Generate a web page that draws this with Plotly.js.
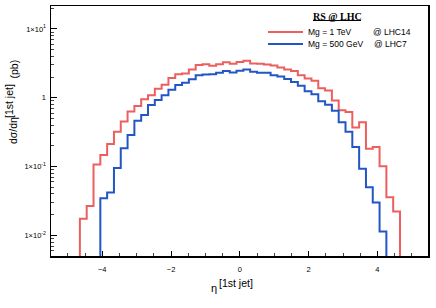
<!DOCTYPE html>
<html>
<head>
<meta charset="utf-8">
<script src="https://cdn.plot.ly/plotly-3.0.1.min.js"></script>
<style>
html,body{margin:0;padding:0;background:#fff;}
#chart{width:436px;height:308px;}
</style>
</head>
<body>
<div id="chart"></div>
<script>
// Bin edges in eta (47 bins)
const etaEdges = [-4.650,-4.452,-4.254,-4.056,-3.858,-3.660,-3.462,-3.264,-3.066,-2.868,
  -2.670,-2.472,-2.274,-2.076,-1.878,-1.680,-1.482,-1.284,-1.086,-0.888,
  -0.690,-0.492,-0.294,-0.096,0.102,0.300,0.498,0.696,0.894,1.092,
  1.290,1.488,1.686,1.884,2.082,2.280,2.478,2.676,2.874,3.072,
  3.270,3.468,3.666,3.864,4.062,4.260,4.458,4.656];

// Mg = 1 TeV @ LHC14 (bins 0..46)
const redValues = [0.0175,0.0268,0.107,0.147,0.213,0.322,0.45,0.63,0.76,0.95,
  1.09,1.35,1.55,1.93,2.20,2.26,2.58,2.98,3.08,2.91,
  3.08,3.29,3.11,3.32,3.44,3.15,3.12,3.05,2.93,2.75,
  2.58,2.45,2.12,1.90,1.77,1.38,1.27,0.91,0.66,0.62,
  0.37,0.44,0.182,0.193,0.101,0.036,0.0223];
const redFirstBin = 0;

// Mg = 500 GeV @ LHC7 (bins 3..44)
const blueValues = [0.0348,0.042,0.095,0.185,0.288,0.464,0.561,0.784,0.927,1.09,
  1.31,1.53,1.65,1.85,2.13,2.18,2.20,2.30,2.44,2.33,
  2.46,2.58,2.38,2.30,2.30,2.13,2.03,1.88,1.70,1.50,
  1.24,1.12,0.89,0.79,0.65,0.44,0.321,0.193,0.093,0.05,
  0.030,0.0114];
const blueFirstBin = 3;

const yTickVals = [0.01, 0.1, 1, 10];
const yTickText = ['1×10<sup>-2</sup>', '1×10<sup>-1</sup>', '1', '1×10<sup>1</sup>'];
const yMinorVals = [0.006,0.007,0.008,0.009,0.02,0.03,0.04,0.05,0.06,0.07,0.08,0.09,
  0.2,0.3,0.4,0.5,0.6,0.7,0.8,0.9,2,3,4,5,6,7,8,9,20];

const FLOOR = 1e-4;
function stepXY(edges, values, first) {
  const x = [edges[first]], y = [FLOOR];
  for (let i = 0; i < values.length; i++) { x.push(edges[first + i]); y.push(values[i]); }
  const last = edges[first + values.length];
  x.push(last); y.push(values[values.length - 1]);
  x.push(last); y.push(FLOOR);
  return {x, y};
}

const RED = '#ec5f5f', BLUE = '#2156c4';
const r = stepXY(etaEdges, redValues, redFirstBin);
const b = stepXY(etaEdges, blueValues, blueFirstBin);

const traces = [
  {x: r.x, y: r.y, type: 'scatter', mode: 'lines', line: {shape: 'hv', color: RED, width: 2}, name: 'Mg = 1 TeV @ LHC14'},
  {x: b.x, y: b.y, type: 'scatter', mode: 'lines', line: {shape: 'hv', color: BLUE, width: 2}, name: 'Mg = 500 GeV @ LHC7'}
];

const F = 'Liberation Sans, Arial, sans-serif';
const L = 51, R = 8, T = 6, B = 52, W = 436, H = 308;
const pw = W - L - R, ph = H - T - B;
const px = v => (v - L) / pw;
const py = v => (H - B - v) / ph;

const ann = (text, x, y, opts) => Object.assign({
  text, xref: 'paper', yref: 'paper', x: px(x), y: py(y), showarrow: false,
  xanchor: 'center', yanchor: 'middle', font: {family: F, size: 10, color: '#000'}
}, opts || {});

const layout = {
  width: W, height: H,
  margin: {l: L, r: R, t: T, b: B, pad: 0},
  paper_bgcolor: '#fff', plot_bgcolor: '#fff',
  showlegend: false,
  xaxis: {
    range: [-5.49, 5.47], showgrid: false, zeroline: false,
    showline: true, linecolor: '#000', linewidth: 1.5, mirror: true,
    ticks: 'inside', ticklen: 5, tickwidth: 1, tickcolor: '#000',
    tickmode: 'linear', tick0: 0, dtick: 2,
    minor: {dtick: 0.5, tick0: 0, ticks: 'inside', ticklen: 3, tickcolor: '#444', tickwidth: 1},
    tickfont: {family: F, size: 7.5, color: '#000'}, ticklabelstandoff: 5
  },
  yaxis: {
    type: 'log', range: [-2.299, 1.333], showgrid: false, zeroline: false,
    showline: true, linecolor: '#000', linewidth: 1.5, mirror: true,
    ticks: 'inside', ticklen: 6, tickwidth: 1, tickcolor: '#000',
    tickmode: 'array', tickvals: yTickVals, ticktext: yTickText,
    minor: {tickmode: 'array', tickvals: yMinorVals, ticks: 'inside', ticklen: 3, tickcolor: '#444', tickwidth: 1},
    tickfont: {family: F, size: 7.5, color: '#000'}, ticklabelstandoff: 2
  },
  annotations: [
    ann('<b>RS @ LHC</b>', 337, 16, {font: {family: 'Liberation Serif, serif', size: 10, color: '#000'}}),
    ann('Mg = 1 TeV', 306, 32, {xanchor: 'left', font: {family: F, size: 8.5, color: '#000'}}),
    ann('@ LHC14', 371, 32, {xanchor: 'left', font: {family: F, size: 8.5, color: '#000'}}),
    ann('Mg = 500 GeV', 306, 44, {xanchor: 'left', font: {family: F, size: 8.5, color: '#000'}}),
    ann('@ LHC7', 372, 44, {xanchor: 'left', font: {family: F, size: 8.5, color: '#000'}}),
    ann('η', 213.5, 288, {font: {family: F, size: 11, color: '#000'}}),
    ann('[1st jet]', 217, 283, {xanchor: 'left', font: {family: F, size: 10.5, color: '#000'}}),
    ann('dσ/dη', 12.5, 130.5, {textangle: -90, font: {family: F, size: 10.5, color: '#000'}}),
    ann('[1st jet]', 9, 101, {textangle: -90, font: {family: F, size: 10.5, color: '#000'}}),
    ann('(pb)', 13, 69.5, {textangle: -90, font: {family: F, size: 10.5, color: '#000'}})
  ],
  shapes: [
    {type: 'line', xref: 'paper', yref: 'paper', x0: px(313), x1: px(361), y0: py(20.5), y1: py(20.5), line: {color: '#000', width: 1}},
    {type: 'line', xref: 'paper', yref: 'paper', x0: px(268), x1: px(303), y0: py(32), y1: py(32), line: {color: RED, width: 2}},
    {type: 'line', xref: 'paper', yref: 'paper', x0: px(268), x1: px(303), y0: py(44), y1: py(44), line: {color: BLUE, width: 2}}
  ]
};

Plotly.newPlot('chart', traces, layout, {staticPlot: true, displayModeBar: false});
</script>
</body>
</html>
